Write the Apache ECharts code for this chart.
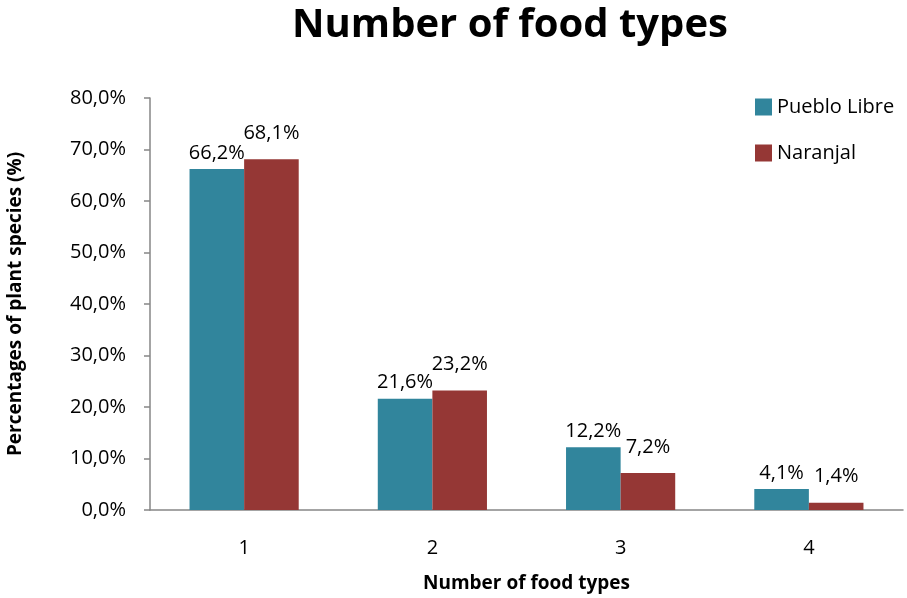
<!DOCTYPE html>
<html>
<head>
<meta charset="utf-8">
<script src="https://cdn.jsdelivr.net/npm/echarts@6/dist/echarts.min.js"></script>
<style>
  html, body { margin: 0; padding: 0; background: #fff; }
  #chart { width: 907px; height: 598px; }
</style>
</head>
<body>
<div id="chart"></div>
<script>
const categories = ['1', '2', '3', '4'];
const puebloLibre = [66.2, 21.6, 12.2, 4.1];
const naranjal = [68.1, 23.2, 7.2, 1.4];

const fmt = v => v.toFixed(1).replace('.', ',') + '%';
const font = '"Open Sans", "Noto Sans", sans-serif';

var myChart = echarts.init(document.getElementById('chart'));
var option = {
    backgroundColor: '#fff',
    textStyle: { fontFamily: font },
    title: {
        text: 'Number of food types',
        left: 505,
        textAlign: 'center',
        top: 1,
        textStyle: { fontSize: 40, fontWeight: 'bold', color: '#000', fontFamily: font }
    },
    legend: {
        orient: 'vertical',
        left: 750,
        top: 92,
        itemWidth: 17,
        itemHeight: 17,
        itemGap: 26,
        icon: 'rect',
        textStyle: { fontSize: 20, color: '#000', fontFamily: font },
        data: ['Pueblo Libre', 'Naranjal']
    },
    grid: { left: 150, right: 4, top: 98, bottom: 88, outerBoundsMode: 'none', containLabel: false },
    xAxis: {
        type: 'category',
        data: categories,
        name: 'Number of food types',
        nameLocation: 'middle',
        nameGap: 64,
        nameTextStyle: { fontSize: 19, fontWeight: 'bold', color: '#000', fontFamily: font },
        axisLine: { lineStyle: { color: '#868686', width: 1.5 } },
        axisTick: { length: 6, lineStyle: { color: '#868686', width: 1.5 } },
        axisLabel: { fontSize: 20, color: '#000', margin: 28 }
    },
    yAxis: {
        type: 'value',
        min: 0,
        max: 80,
        interval: 10,
        name: 'Percentages of plant species (%)',
        nameLocation: 'middle',
        nameGap: 125,
        nameTextStyle: { fontSize: 19, fontWeight: 'bold', color: '#000', fontFamily: font },
        axisLine: { show: true, lineStyle: { color: '#868686', width: 1.5 } },
        axisTick: { show: true, length: 6, lineStyle: { color: '#868686', width: 1.5 } },
        splitLine: { show: false },
        axisLabel: { fontSize: 20, color: '#000', margin: 24, formatter: fmt }
    },
    series: [
        {
            name: 'Pueblo Libre',
            type: 'bar',
            data: puebloLibre,
            barGap: '0%',
            barCategoryGap: '42%',
            itemStyle: { color: '#31859C' },
            label: {
                show: true,
                position: 'top',
                distance: 6,
                fontSize: 20,
                color: '#000',
                formatter: p => fmt(p.value)
            }
        },
        {
            name: 'Naranjal',
            type: 'bar',
            data: naranjal,
            itemStyle: { color: '#953735' },
            label: {
                show: true,
                position: 'top',
                distance: 16,
                fontSize: 20,
                color: '#000',
                formatter: p => fmt(p.value)
            }
        }
    ]
};
myChart.setOption(option);
</script>
</body>
</html>
